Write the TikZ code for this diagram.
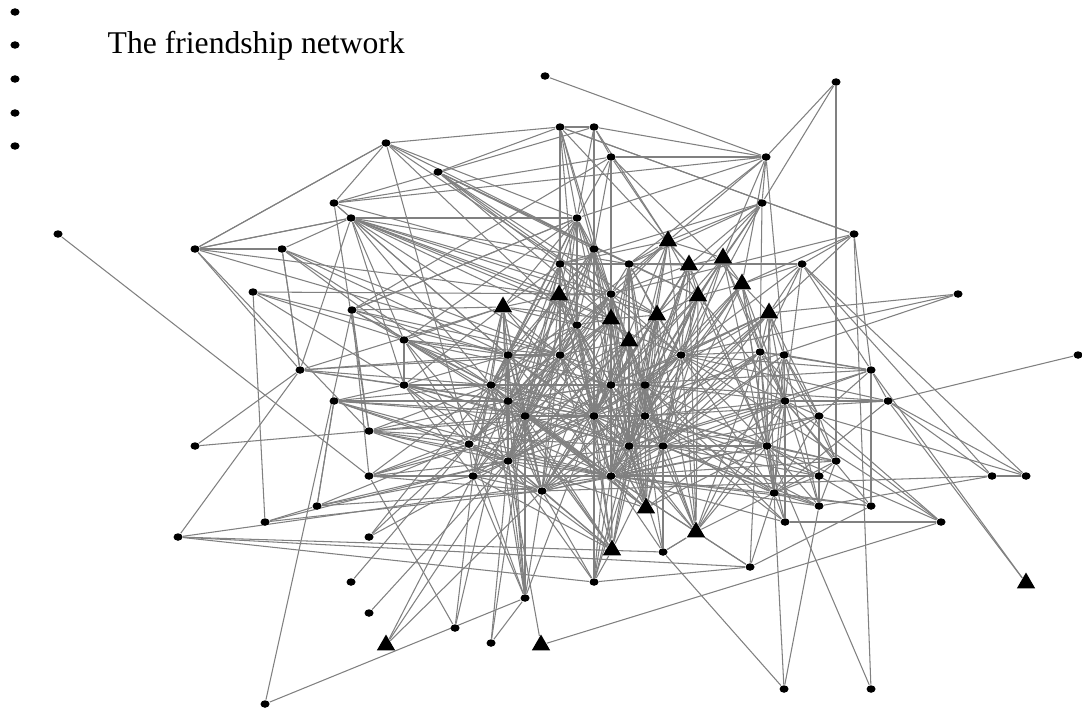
\documentclass[tikz,border=0pt]{standalone}
\usepackage{fontspec}
\setmainfont{Liberation Serif}
\usetikzlibrary{shapes.geometric,backgrounds}

\tikzset{
  pdot/.style={ellipse, fill=black, inner sep=0pt, minimum width=0.09cm, minimum height=0.075cm},
  ptri/.style={regular polygon, regular polygon sides=3, fill=black, inner sep=0pt, minimum size=0.21cm},
  tie/.style={draw=black!50, line width=0.3pt}
}

\begin{document}
\begin{tikzpicture}[x=0.01cm, y=-0.01cm]
          \useasboundingbox (0,0) rectangle (1082,709);

          % isolates on the left
          \node[pdot] (i1) at (15,12) {};
          \node[pdot] (i2) at (15,45) {};
          \node[pdot] (i3) at (15,79) {};
          \node[pdot] (i4) at (15,113) {};
          \node[pdot] (i5) at (15,146) {};

          \node[anchor=base west, inner sep=0pt, font=\fontsize{9}{10}\selectfont] (title) at (107,54) {The friendship network};

          % round members
          \node[pdot] (c1) at (545,76) {};
          \node[pdot] (c2) at (836,82) {};
          \node[pdot] (c3) at (560,127) {};
          \node[pdot] (c4) at (594,127) {};
          \node[pdot] (c5) at (386,143) {};
          \node[pdot] (c6) at (766,157) {};
          \node[pdot] (c7) at (611,157) {};
          \node[pdot] (c8) at (438,172) {};
          \node[pdot] (c9) at (334,203) {};
          \node[pdot] (c10) at (762,203) {};
          \node[pdot] (c11) at (351,218) {};
          \node[pdot] (c12) at (577,218) {};
          \node[pdot] (c13) at (58,234) {};
          \node[pdot] (c14) at (854,234) {};
          \node[pdot] (c15) at (195,249) {};
          \node[pdot] (c16) at (282,249) {};
          \node[pdot] (c17) at (594,249) {};
          \node[pdot] (c18) at (560,264) {};
          \node[pdot] (c19) at (629,264) {};
          \node[pdot] (c20) at (802,264) {};
          \node[pdot] (c21) at (253,292) {};
          \node[pdot] (c22) at (958,294) {};
          \node[pdot] (c23) at (611,294) {};
          \node[pdot] (c24) at (352,310) {};
          \node[pdot] (c25) at (577,325) {};
          \node[pdot] (c26) at (404,340) {};
          \node[pdot] (c27) at (1078,355) {};
          \node[pdot] (c28) at (508,355) {};
          \node[pdot] (c29) at (560,355) {};
          \node[pdot] (c30) at (681,355) {};
          \node[pdot] (c31) at (760,352) {};
          \node[pdot] (c32) at (784,355) {};
          \node[pdot] (c33) at (300,370) {};
          \node[pdot] (c34) at (871,370) {};
          \node[pdot] (c35) at (404,385) {};
          \node[pdot] (c36) at (491,385) {};
          \node[pdot] (c37) at (611,385) {};
          \node[pdot] (c38) at (645,385) {};
          \node[pdot] (c39) at (334,401) {};
          \node[pdot] (c40) at (508,401) {};
          \node[pdot] (c41) at (785,401) {};
          \node[pdot] (c42) at (888,401) {};
          \node[pdot] (c43) at (525,416) {};
          \node[pdot] (c44) at (594,416) {};
          \node[pdot] (c45) at (645,416) {};
          \node[pdot] (c46) at (819,416) {};
          \node[pdot] (c47) at (369,431) {};
          \node[pdot] (c48) at (469,444) {};
          \node[pdot] (c49) at (195,446) {};
          \node[pdot] (c50) at (629,446) {};
          \node[pdot] (c51) at (663,446) {};
          \node[pdot] (c52) at (767,446) {};
          \node[pdot] (c53) at (508,461) {};
          \node[pdot] (c54) at (836,461) {};
          \node[pdot] (c55) at (369,476) {};
          \node[pdot] (c56) at (473,476) {};
          \node[pdot] (c57) at (611,476) {};
          \node[pdot] (c58) at (819,476) {};
          \node[pdot] (c59) at (992,476) {};
          \node[pdot] (c60) at (1026,476) {};
          \node[pdot] (c61) at (542,491) {};
          \node[pdot] (c62) at (774,493) {};
          \node[pdot] (c63) at (317,506) {};
          \node[pdot] (c64) at (819,506) {};
          \node[pdot] (c65) at (871,506) {};
          \node[pdot] (c66) at (265,522) {};
          \node[pdot] (c67) at (785,522) {};
          \node[pdot] (c68) at (941,522) {};
          \node[pdot] (c69) at (178,537) {};
          \node[pdot] (c70) at (369,537) {};
          \node[pdot] (c71) at (663,552) {};
          \node[pdot] (c72) at (750,567) {};
          \node[pdot] (c73) at (351,582) {};
          \node[pdot] (c74) at (594,582) {};
          \node[pdot] (c75) at (525,598) {};
          \node[pdot] (c76) at (369,613) {};
          \node[pdot] (c77) at (455,628) {};
          \node[pdot] (c78) at (491,643) {};
          \node[pdot] (c79) at (784,689) {};
          \node[pdot] (c80) at (871,689) {};
          \node[pdot] (c81) at (265,704) {};

          % triangle members
          \node[ptri] (t1) at (668,241) {};
          \node[ptri] (t2) at (723,258) {};
          \node[ptri] (t3) at (689,265) {};
          \node[ptri] (t4) at (742,284) {};
          \node[ptri] (t5) at (559,295) {};
          \node[ptri] (t6) at (698,296) {};
          \node[ptri] (t7) at (503,307) {};
          \node[ptri] (t8) at (657,315) {};
          \node[ptri] (t9) at (611,319) {};
          \node[ptri] (t10) at (769,313) {};
          \node[ptri] (t11) at (629,341) {};
          \node[ptri] (t12) at (646,508) {};
          \node[ptri] (t13) at (696,532) {};
          \node[ptri] (t14) at (612,550) {};
          \node[ptri] (t15) at (1026,583) {};
          \node[ptri] (t16) at (386,645) {};
          \node[ptri] (t17) at (541,645) {};

          % ties, kept behind the members
          \begin{scope}[on background layer]
          \path[tie] (c1) edge (c6);
          \path[tie] (c2) edge (c6) edge (c10) edge (c54);
          \path[tie] (c3) edge (c4) edge (c5) edge (c8) edge (c12) edge (c17) edge (c18) edge (t5) edge (c23) edge (c25) edge (c14) edge (t3);
          \path[tie] (c4) edge (c6) edge (c7) edge (c17) edge (c12) edge (t1) edge (c9);
          \path[tie] (c5) edge (c9) edge (c15) edge (c12) edge (c23) edge (c25) edge (c48) edge (c19);
          \path[tie] (c6) edge (c7) edge (c9) edge (c10) edge (t1) edge (c12) edge (t2) edge (c19) edge (c32) edge (t4);
          \path[tie] (c7) edge (c9) edge (c12) edge (c17) edge (c23) edge (t1) edge (t4) edge (c24);
          \path[tie] (c8) edge (c19) edge (t6) edge (c23) edge (t8) edge (c30) edge (t9) edge (c17);
          \path[tie] (c9) edge (c11) edge (c28) edge (c47) edge (c18);
          \path[tie] (c10) edge (t3) edge (t6) edge (c19) edge (c18) edge (t8) edge (t1) edge (c31) edge (c30);
          \path[tie] (c11) edge (c12) edge (c15) edge (c16) edge (c26) edge (t5) edge (c23) edge (t9) edge (c25) edge (c28) edge (c29) edge (c36) edge (t8) edge (c30) edge (c35) edge (c33) edge (c19);
          \path[tie] (c12) edge (c18) edge (c17) edge (t5) edge (c23) edge (c25) edge (t9) edge (t11) edge (c28) edge (c29) edge (t7) edge (c26) edge (c24) edge (c36) edge (c37);
          \path[tie] (c13) edge (c55);
          \path[tie] (c14) edge (c3) edge (c20) edge (t4) edge (t10) edge (c80) edge (c34) edge (c23);
          \path[tie] (c15) edge (c5) edge (c11) edge (c16) edge (c29) edge (c47) edge (t5) edge (c33);
          \path[tie] (c16) edge (c33) edge (c26) edge (c28) edge (c29) edge (c36);
          \path[tie] (c17) edge (t5) edge (c25) edge (t9) edge (c29) edge (c37) edge (t11) edge (c40) edge (c44) edge (c36) edge (c43) edge (c53) edge (c50);
          \path[tie] (c18) edge (c19) edge (c20) edge (t5) edge (t7) edge (c25) edge (c28) edge (c29) edge (t11) edge (c36) edge (c40) edge (c43) edge (c53) edge (c44);
          \path[tie] (c19) edge (t1) edge (t3) edge (t6) edge (c23) edge (t8) edge (c30) edge (c38) edge (c37) edge (c45) edge (t11) edge (c44) edge (c50) edge (c57) edge (c51);
          \path[tie] (c20) edge (c59) edge (c60) edge (t4) edge (t10) edge (c30) edge (c41) edge (c31) edge (c34);
          \path[tie] (c21) edge (c23) edge (c66) edge (c26) edge (c28) edge (c35);
          \path[tie] (c22) edge (t10) edge (c44) edge (c30);
          \path[tie] (c23) edge (t5) edge (t9) edge (c25) edge (c29) edge (c37) edge (c38) edge (t8) edge (c44) edge (c30) edge (c50) edge (c43) edge (c40) edge (c53) edge (c51) edge (c45);
          \path[tie] (c24) edge (c12) edge (t7) edge (c28) edge (c36) edge (c47) edge (c55) edge (c81) edge (c26) edge (c29);
          \path[tie] (c25) edge (t7) edge (t9) edge (c28) edge (c29) edge (c36) edge (c40) edge (c43) edge (c44) edge (t11) edge (c50) edge (c57) edge (c37) edge (c53) edge (c61) edge (c48);
          \path[tie] (c26) edge (c28) edge (c29) edge (c36) edge (c40) edge (c43) edge (c35) edge (c48) edge (c53) edge (c44) edge (c37);
          \path[tie] (c27) edge (c42);
          \path[tie] (c28) edge (c29) edge (c35) edge (c36) edge (c40) edge (c43) edge (c48) edge (c53) edge (t7) edge (c56) edge (c61) edge (c44) edge (c37) edge (c50) edge (c57);
          \path[tie] (c29) edge (c36) edge (c37) edge (c40) edge (c43) edge (c44) edge (c48) edge (c53) edge (c57) edge (t9) edge (c61) edge (c50) edge (c38) edge (c45) edge (c56);
          \path[tie] (c30) edge (t6) edge (t8) edge (t10) edge (c38) edge (c45) edge (c51) edge (c52) edge (c31) edge (c37) edge (c41) edge (c57) edge (c62) edge (c44) edge (c50) edge (c61) edge (c53);
          \path[tie] (c31) edge (t10) edge (c32) edge (c41) edge (c52) edge (c62) edge (c46) edge (t4) edge (c72) edge (c57) edge (c50) edge (c45) edge (c51);
          \path[tie] (c32) edge (c67) edge (c41) edge (c52) edge (c54) edge (c46) edge (t10) edge (c34) edge (c51) edge (c57) edge (c62) edge (c64);
          \path[tie] (c33) edge (c36) edge (c28) edge (c29) edge (c35) edge (c40) edge (t7) edge (c16);
          \path[tie] (c34) edge (c65) edge (c31) edge (c30) edge (c41) edge (c46) edge (c37) edge (c50) edge (c42);
          \path[tie] (c35) edge (c36) edge (c40) edge (c43) edge (c48) edge (c53) edge (c56) edge (c44) edge (c37) edge (c50) edge (c57);
          \path[tie] (c36) edge (c40) edge (c43) edge (c48) edge (c53) edge (c56) edge (c37) edge (c44) edge (c61) edge (c50) edge (c57) edge (c45);
          \path[tie] (c37) edge (c38) edge (c44) edge (c45) edge (c50) edge (c57) edge (c51) edge (c43) edge (c40) edge (c53) edge (c61) edge (c56);
          \path[tie] (c38) edge (c45) edge (c50) edge (c51) edge (c52) edge (c41) edge (c57) edge (c44) edge (c53) edge (c61) edge (c62);
          \path[tie] (c39) edge (c48) edge (c40) edge (c43) edge (c36) edge (c35) edge (c63) edge (c53) edge (c57) edge (c44);
          \path[tie] (c40) edge (c43) edge (c48) edge (c53) edge (c44) edge (c56) edge (c61) edge (c57) edge (c50) edge (c37);
          \path[tie] (c41) edge (c46) edge (c52) edge (c62) edge (c51) edge (c45) edge (c54) edge (c57) edge (c50) edge (c64);
          \path[tie] (c42) edge (c59) edge (c60) edge (t15) edge (c30) edge (c38) edge (c41) edge (c62) edge (c45);
          \path[tie] (c43) edge (c44) edge (c48) edge (c53) edge (c56) edge (c57) edge (c61) edge (c50);
          \path[tie] (c44) edge (c45) edge (c50) edge (c57) edge (c53) edge (c51) edge (c61) edge (c62);
          \path[tie] (c45) edge (c50) edge (c51) edge (c52) edge (c57) edge (c62) edge (c61) edge (c53);
          \path[tie] (c46) edge (c52) edge (c54) edge (c58) edge (c64) edge (c60) edge (c62) edge (c51) edge (c57);
          \path[tie] (c47) edge (c49) edge (c48) edge (c53) edge (c40) edge (c43) edge (c44) edge (c36) edge (c57) edge (c50) edge (c61);
          \path[tie] (c48) edge (c53) edge (c56) edge (c61) edge (c57);
          \path[tie] (c49) edge (c33);
          \path[tie] (c50) edge (c51) edge (c57) edge (c52) edge (c61);
          \path[tie] (c51) edge (c52) edge (c57) edge (c62) edge (c61) edge (c53);
          \path[tie] (c52) edge (c62) edge (c64) edge (c58) edge (c54) edge (c57) edge (c61) edge (c50) edge (c44);
          \path[tie] (c53) edge (c56) edge (c61) edge (c57);
          \path[tie] (c54) edge (c58) edge (c64) edge (c62) edge (c51) edge (c57) edge (c45);
          \path[tie] (c55) edge (c56) edge (c53) edge (c48) edge (c61) edge (c43) edge (c36) edge (c57) edge (c44);
          \path[tie] (c56) edge (c61) edge (c57);
          \path[tie] (c57) edge (c61) edge (c62);
          \path[tie] (c58) edge (c57) edge (c45) edge (c51);
          \path[tie] (c59) edge (c61) edge (c64) edge (c60);
          \path[tie] (c62) edge (c64) edge (c58);
          \path[tie] (c63) edge (c39) edge (c48) edge (c53) edge (c56) edge (c61);
          \path[tie] (c64) edge (c58) edge (c51) edge (c57) edge (c45);
          \path[tie] (c65) edge (c62) edge (c72) edge (c57) edge (c52) edge (c41);
          \path[tie] (c66) edge (c53) edge (c61) edge (c63);
          \path[tie] (c67) edge (c62) edge (c52) edge (c68) edge (c57) edge (c45) edge (c38) edge (c41);
          \path[tie] (c68) edge (t17) edge (c46) edge (c52) edge (c41) edge (c30);
          \path[tie] (c69) edge (c33) edge (c71) edge (c72) edge (c74) edge (c57);
          \path[tie] (c70) edge (c53) edge (c48) edge (c36);
          \path[tie] (c71) edge (c51) edge (c50) edge (c57) edge (t13) edge (c79) edge (c45);
          \path[tie] (c72) edge (c74) edge (t13) edge (c57) edge (c62);
          \path[tie] (c73) edge (c48);
          \path[tie] (c74) edge (c57) edge (c44) edge (c37) edge (c50) edge (c45) edge (c61) edge (c53);
          \path[tie] (c75) edge (c53) edge (c40) edge (c36) edge (c56) edge (c61) edge (c48) edge (c43) edge (c44) edge (c28) edge (c78) edge (c81);
          \path[tie] (c76) edge (c53);
          \path[tie] (c77) edge (c55) edge (c56) edge (c40);
          \path[tie] (c78) edge (c53) edge (c43);
          \path[tie] (c79) edge (c64) edge (c62);
          \path[tie] (c80) edge (c52);
          \path[tie] (t1) edge (t3) edge (t6) edge (c18) edge (c30) edge (c23) edge (t2) edge (c38) edge (c44) edge (c50) edge (c57) edge (c29) edge (c36);
          \path[tie] (t2) edge (c10) edge (t3) edge (t4) edge (c30) edge (t6) edge (c31) edge (c41) edge (c51) edge (c38) edge (c62) edge (c37);
          \path[tie] (t3) edge (t6) edge (c23) edge (c30) edge (t8) edge (c38) edge (c37) edge (c52) edge (c44) edge (c57) edge (c45) edge (c50);
          \path[tie] (t4) edge (c30) edge (t10) edge (c41) edge (c52) edge (c38) edge (t6) edge (c45) edge (c51) edge (c62) edge (c57);
          \path[tie] (t5) edge (t7) edge (c28) edge (c29) edge (t9) edge (c36) edge (c40) edge (c37) edge (c43) edge (c44) edge (c50) edge (c53) edge (c61) edge (c57);
          \path[tie] (t6) edge (t8) edge (c38) edge (c45) edge (c51) edge (c41) edge (c44) edge (c57) edge (c50) edge (c37) edge (c52);
          \path[tie] (t7) edge (c26) edge (c29) edge (c36) edge (c35) edge (c40) edge (c48) edge (t9) edge (c43) edge (c53) edge (c56) edge (c61) edge (c44);
          \path[tie] (t8) edge (t9) edge (t11) edge (c38) edge (c45) edge (c50) edge (c37) edge (c51) edge (c44) edge (c57) edge (c61) edge (c53);
          \path[tie] (t9) edge (t11) edge (c37) edge (c44) edge (c43) edge (c40) edge (c50) edge (c53) edge (c61) edge (c57) edge (c48);
          \path[tie] (t10) edge (c41) edge (c52) edge (c62) edge (c38) edge (c45) edge (c46) edge (c51) edge (c57) edge (c30) edge (c37) edge (c50);
          \path[tie] (t11) edge (c37) edge (c38) edge (c44) edge (c50) edge (c45) edge (c29) edge (c57) edge (c40) edge (c53) edge (c61) edge (c51) edge (c43);
          \path[tie] (t12) edge (c38) edge (c45) edge (c37) edge (c44) edge (c50) edge (c51) edge (c29) edge (c23) edge (t9) edge (c30) edge (c57) edge (t11) edge (c25) edge (t8) edge (c43) edge (c36) edge (c40) edge (c41) edge (c52) edge (c53);
          \path[tie] (t13) edge (c51) edge (c30) edge (t8) edge (c38) edge (c45) edge (c52) edge (t6) edge (t3) edge (c41) edge (c62) edge (c71) edge (c57) edge (c50) edge (c44) edge (c31) edge (c32);
          \path[tie] (t14) edge (c57) edge (c44) edge (c50) edge (c43) edge (c40) edge (c53) edge (c36) edge (c29) edge (c37) edge (c61) edge (c74) edge (c25) edge (c48) edge (c56) edge (c45) edge (c51) edge (c38);
          \path[tie] (t15) edge (c34);
          \path[tie] (t16) edge (c53) edge (c61) edge (c56);
          \path[tie] (t17) edge (c53);
          \end{scope}
\end{tikzpicture}
\end{document}
